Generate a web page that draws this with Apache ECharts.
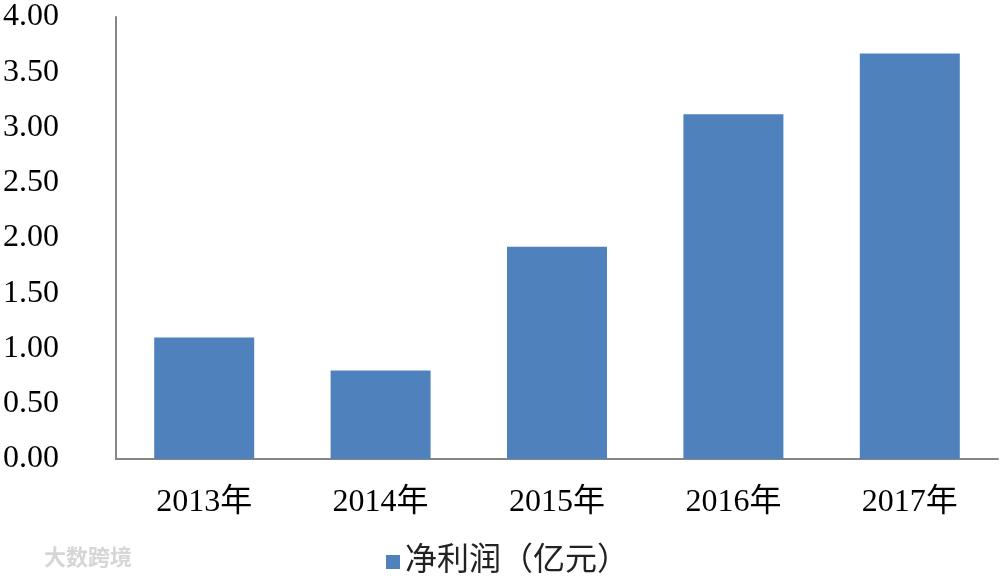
<!DOCTYPE html>
<html><head><meta charset="utf-8">
<script src="https://cdn.jsdelivr.net/npm/echarts@6/dist/echarts.min.js"></script>
<style>html,body{margin:0;padding:0;background:#fff}#c{width:1002px;height:578px}</style>
</head><body><div id="c"></div>
<script>
const categories = ['2013年', '2014年', '2015年', '2016年', '2017年'];
const netProfit = [1.10, 0.80, 1.92, 3.12, 3.67];
const seriesName = '净利润（亿元）';
const yTicks = {min: 0, max: 4, interval: 0.5};

const serif = '"Liberation Serif", "Noto Sans CJK SC", serif';
const chart = echarts.init(document.getElementById('c'));
chart.setOption({
  animation: false,
  grid: {left: 116, right: 4, top: 17, bottom: 119},
  legend: {
    data: [seriesName], top: 537, left: 381,
    itemWidth: 14, itemHeight: 14, itemGap: 10,
    icon: 'rect',
    textStyle: {fontFamily: serif, fontSize: 32, color: '#222', lineHeight: 40}
  },
  xAxis: {
    type: 'category', data: categories,
    axisLine: {lineStyle: {color: '#868686', width: 2}},
    axisTick: {show: false},
    axisLabel: {fontFamily: serif, fontSize: 32, color: '#000', margin: 28}
  },
  yAxis: {
    type: 'value', min: yTicks.min, max: yTicks.max, interval: yTicks.interval,
    axisLine: {show: true, lineStyle: {color: '#868686', width: 2}},
    axisTick: {show: false},
    splitLine: {show: false},
    axisLabel: {fontFamily: serif, fontSize: 32, color: '#000', align: 'left', margin: 113,
      formatter: v => v.toFixed(2)}
  },
  series: [{
    name: seriesName, type: 'bar', data: netProfit, barWidth: 100,
    itemStyle: {color: '#4F81BD'}
  }],
  graphic: [{
    type: 'text', left: 44, top: 546,
    style: {text: '大数跨境', fill: '#d6d6d6', fontSize: 22, fontWeight: 'bold', fontFamily: '"Noto Sans CJK SC"'}
  }]
});
</script></body></html>
